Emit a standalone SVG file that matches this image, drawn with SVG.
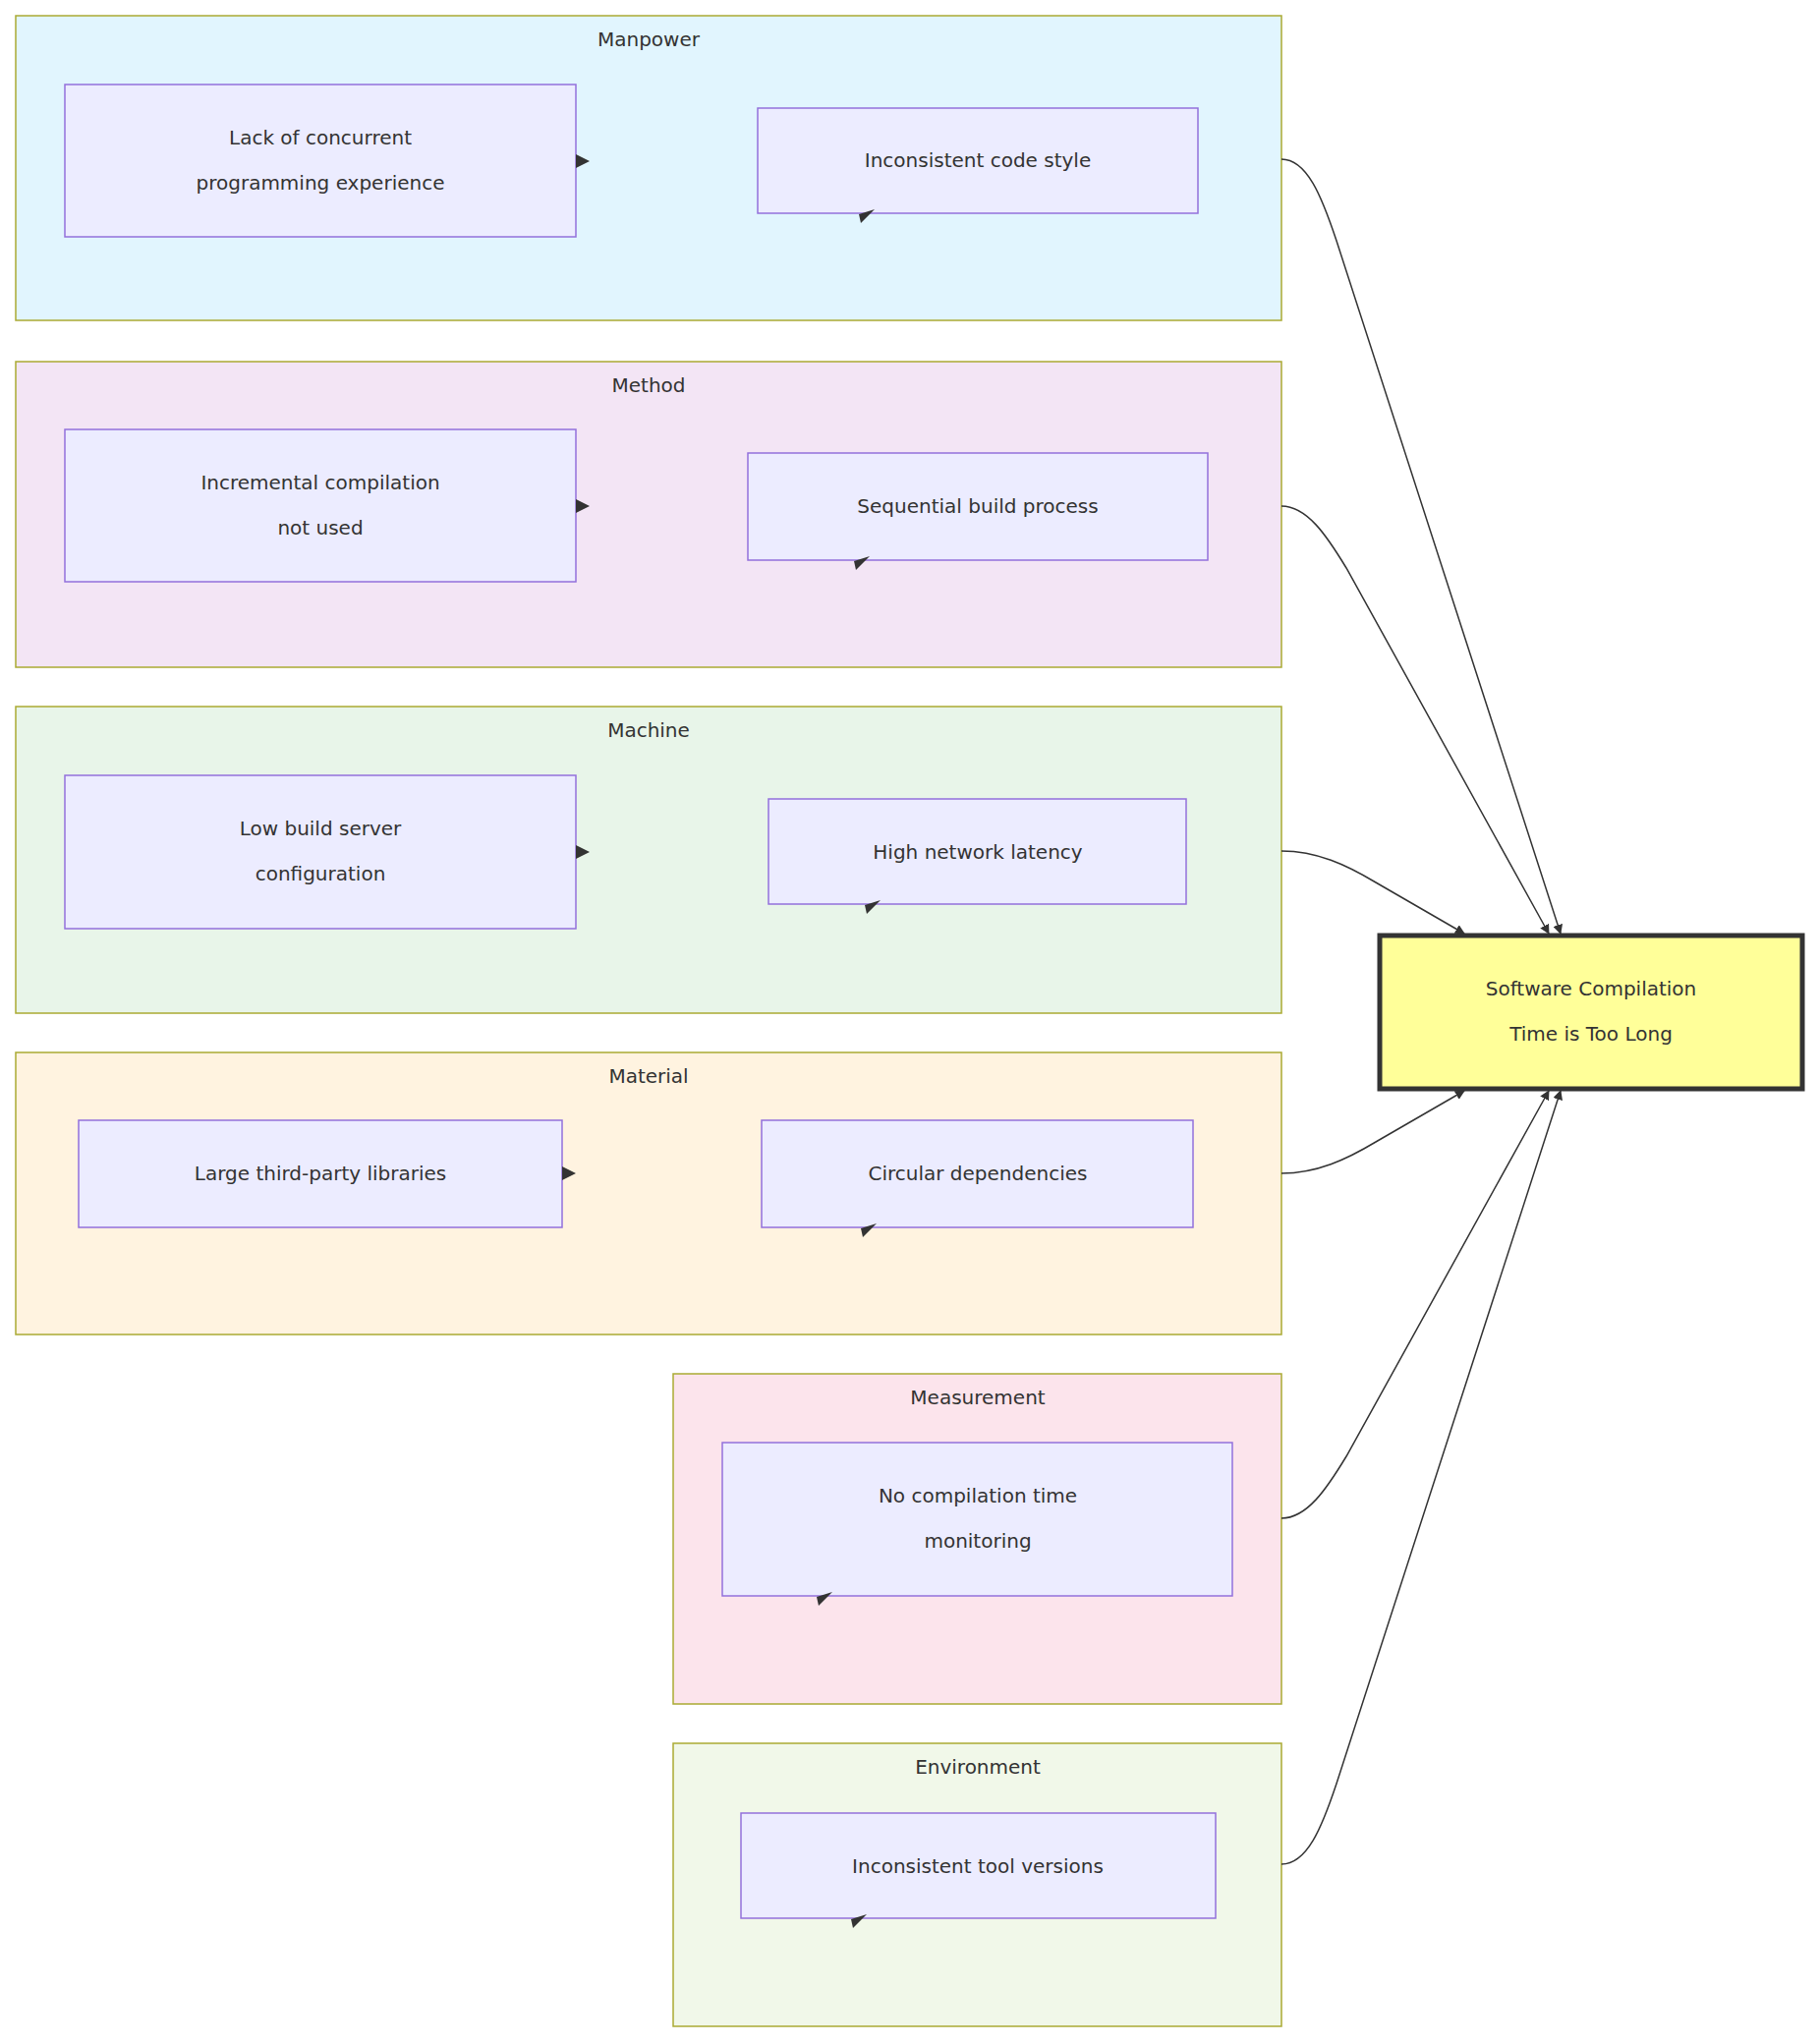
<svg xmlns="http://www.w3.org/2000/svg" width="1852" height="2080" viewBox="0 0 1852 2080">
<style>
.cl{stroke:#aaaa33;stroke-width:1.5}
.n{fill:#ECECFF;stroke:#9370DB;stroke-width:1.5}
.t{font-family:"DejaVu Sans",sans-serif;font-size:20px;fill:#333;text-anchor:middle}
.e{fill:none;stroke:#333;stroke-width:1.5}
.ah{fill:#333}
</style>
<defs>
<marker id="arr" viewBox="0 0 10 10" refX="9" refY="5" markerWidth="10" markerHeight="10" markerUnits="userSpaceOnUse" orient="auto"><path d="M0,0L10,5L0,10z" fill="#333"/></marker>
</defs>
<g id="manpower">
<rect class="cl" x="16" y="16" width="1288" height="310" fill="#e1f5fe"/>
<text class="t" x="660" y="47">Manpower</text>
<rect class="n" x="66" y="86" width="520" height="155"/>
<text class="t" x="326" y="147">Lack of concurrent</text><text class="t" x="326" y="193">programming experience</text>
<rect class="n" x="771" y="110" width="448" height="107"/>
<text class="t" x="995" y="170">Inconsistent code style</text>
<path class="ah" d="M586,157L600,164L586,171z"/><path class="ah" d="M874,218L890,213L876,227z"/>
</g>
<g id="method">
<rect class="cl" x="16" y="368" width="1288" height="311" fill="#f3e5f5"/>
<text class="t" x="660" y="399">Method</text>
<rect class="n" x="66" y="437" width="520" height="155"/>
<text class="t" x="326" y="498">Incremental compilation</text><text class="t" x="326" y="544">not used</text>
<rect class="n" x="761" y="461" width="468" height="109"/>
<text class="t" x="995" y="522">Sequential build process</text>
<path class="ah" d="M586,508L600,515L586,522z"/><path class="ah" d="M869,571L885,566L871,580z"/>
</g>
<g id="machine">
<rect class="cl" x="16" y="719" width="1288" height="312" fill="#e8f5e9"/>
<text class="t" x="660" y="750">Machine</text>
<rect class="n" x="66" y="789" width="520" height="156"/>
<text class="t" x="326" y="850">Low build server</text><text class="t" x="326" y="896">configuration</text>
<rect class="n" x="782" y="813" width="425" height="107"/>
<text class="t" x="995" y="874">High network latency</text>
<path class="ah" d="M586,860L600,867L586,874z"/><path class="ah" d="M880,921L896,916L882,930z"/>
</g>
<g id="material">
<rect class="cl" x="16" y="1071" width="1288" height="287" fill="#fff3e0"/>
<text class="t" x="660" y="1102">Material</text>
<rect class="n" x="80" y="1140" width="492" height="109"/>
<text class="t" x="326" y="1201">Large third-party libraries</text>
<rect class="n" x="775" y="1140" width="439" height="109"/>
<text class="t" x="995" y="1201">Circular dependencies</text>
<path class="ah" d="M572,1187L586,1194L572,1201z"/><path class="ah" d="M876,1250L892,1245L878,1259z"/>
</g>
<g id="measurement">
<rect class="cl" x="685" y="1398" width="619" height="336" fill="#fce4ec"/>
<text class="t" x="995" y="1429">Measurement</text>
<rect class="n" x="735" y="1468" width="519" height="156"/>
<text class="t" x="995" y="1529">No compilation time</text><text class="t" x="995" y="1575">monitoring</text>
<path class="ah" d="M831,1625L847,1620L833,1634z"/>
</g>
<g id="environment">
<rect class="cl" x="685" y="1774" width="619" height="288" fill="#f1f8e9"/>
<text class="t" x="995" y="1805">Environment</text>
<rect class="n" x="754" y="1845" width="483" height="107"/>
<text class="t" x="995" y="1906">Inconsistent tool versions</text>
<path class="ah" d="M866,1953L882,1948L868,1962z"/>
</g>
<g id="effect">
<rect x="1404" y="952" width="430" height="156" fill="#ffff99" stroke="#333" stroke-width="5"/>
<text class="t" x="1619" y="1013">Software Compilation</text><text class="t" x="1619" y="1059">Time is Too Long</text>
</g>
<g id="connectors">
<path class="e" marker-end="url(#arr)" d="M1304,162C1330,162 1345,200 1360,245L1588,950"/>
<path class="e" marker-end="url(#arr)" d="M1304,515C1330,515 1350,545 1370,578L1576,950"/>
<path class="e" marker-end="url(#arr)" d="M1304,866C1340,866 1370,880 1400,898L1490,950"/>
<path class="e" marker-end="url(#arr)" d="M1304,1194C1340,1194 1370,1180 1400,1162L1490,1110"/>
<path class="e" marker-end="url(#arr)" d="M1304,1545C1330,1545 1350,1515 1370,1482L1576,1110"/>
<path class="e" marker-end="url(#arr)" d="M1304,1897C1330,1897 1345,1860 1360,1815L1588,1110"/>
</g>
</svg>
